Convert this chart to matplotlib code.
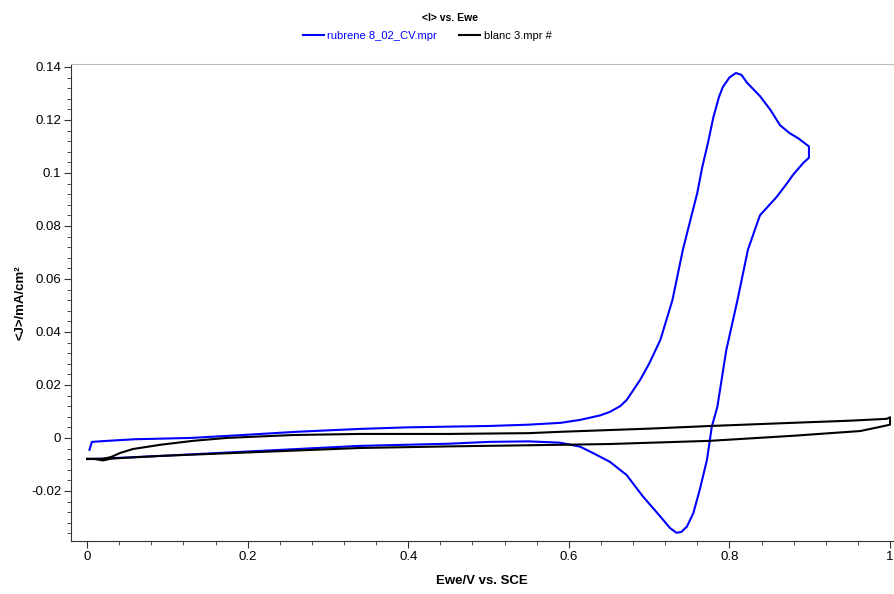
import numpy as np
import matplotlib
matplotlib.use("Agg")
import matplotlib.pyplot as plt
from matplotlib.ticker import MultipleLocator, FormatStrFormatter

plt.rcParams['font.family'] = ['Liberation Sans', 'DejaVu Sans']
plt.rcParams['axes.unicode_minus'] = False

# rubrene CV (forward then reverse scan)
rub_x = [0.003, 0.006, 0.02, 0.06, 0.13, 0.2, 0.26, 0.34, 0.4, 0.5, 0.55, 0.59,
         0.614, 0.639, 0.651, 0.664, 0.672, 0.689, 0.70, 0.714, 0.729, 0.742,
         0.752, 0.760, 0.766, 0.773, 0.780, 0.787, 0.792, 0.800, 0.808, 0.815,
         0.822, 0.838, 0.851, 0.863, 0.875, 0.886, 0.899,
         0.899, 0.892, 0.879, 0.872, 0.859, 0.838, 0.823, 0.81, 0.796, 0.785,
         0.778, 0.772, 0.763, 0.755, 0.747, 0.740, 0.734, 0.726, 0.714, 0.692,
         0.672, 0.651, 0.630, 0.614, 0.589, 0.55, 0.5, 0.45, 0.34, 0.215, 0.091,
         0.02, 0.0]
rub_y = [-0.0045, -0.0015, -0.0012, -0.0005, 0.0, 0.0012, 0.0023, 0.0034, 0.0040,
         0.0045, 0.005, 0.0057, 0.0068, 0.0085, 0.0098, 0.012, 0.0143, 0.022,
         0.028, 0.037, 0.052, 0.071, 0.083, 0.0925, 0.102, 0.111, 0.121, 0.1287,
         0.1325, 0.136, 0.1377, 0.137, 0.134, 0.129, 0.1238, 0.118, 0.115, 0.113,
         0.110,
         0.1057, 0.1038, 0.0992, 0.0962, 0.091, 0.084, 0.071, 0.052, 0.033, 0.0118,
         0.0042, -0.0083, -0.0196, -0.0284, -0.0335, -0.0355, -0.0358, -0.034,
         -0.0297, -0.022, -0.014, -0.009, -0.0057, -0.0033, -0.0018, -0.0013,
         -0.0015, -0.0022, -0.003, -0.0049, -0.0068, -0.0078, -0.0080]

# blank CV
blk_x = [0.0, 0.02, 0.03, 0.041, 0.057, 0.091, 0.132, 0.174, 0.257, 0.34, 0.45,
         0.55, 0.589, 0.7, 0.776, 0.879, 0.95, 0.996, 1.0,
         1.0, 0.988, 0.963, 0.879, 0.776, 0.651, 0.589, 0.45, 0.34, 0.215, 0.091,
         0.03, 0.02, 0.01, 0.0]
blk_y = [-0.0079, -0.0079, -0.0072, -0.0057, -0.0042, -0.0026, -0.0011, 0.0,
         0.0011, 0.0015, 0.0015, 0.0018, 0.0023, 0.0035, 0.0045, 0.0057, 0.0065,
         0.0072, 0.0078,
         0.0050, 0.0042, 0.0026, 0.0008, -0.0011, -0.0023, -0.0026, -0.0032,
         -0.0038, -0.0053, -0.0068, -0.0078, -0.0085, -0.0080, -0.0079]

fig = plt.figure(figsize=(8.94, 5.94), dpi=100)
ax = fig.add_axes([71/894, 53/594, 822/894, 477/594])

ax.plot(rub_x, rub_y, color='#0000ff', lw=1.5, label='rubrene 8_02_CV.mpr')
ax.plot(blk_x, blk_y, color='black', lw=1.5, label='blanc 3.mpr #')

ax.set_xlim(-0.02, 1.0037)
ax.set_ylim(-0.0389, 0.1411)
ax.xaxis.set_major_locator(MultipleLocator(0.2))
ax.xaxis.set_minor_locator(MultipleLocator(0.04))
ax.yaxis.set_major_locator(MultipleLocator(0.02))
ax.yaxis.set_minor_locator(MultipleLocator(0.004))
ax.xaxis.set_major_formatter(FormatStrFormatter('%g'))
ax.yaxis.set_major_formatter(FormatStrFormatter('%g'))
ax.tick_params(which='both', direction='out', top=False, right=False,
               labelsize=9.5, color='#333333', pad=2)
ax.tick_params(which='major', length=5)
ax.tick_params(which='minor', length=3)

ax.spines['right'].set_visible(False)
ax.spines['top'].set_color('#bbbbbb')
ax.spines['left'].set_color('#333333')
ax.spines['bottom'].set_color('#333333')

ax.set_xlabel('Ewe/V vs. SCE', fontsize=9.5, fontweight='bold', labelpad=9)
ax.set_ylabel('<J>/mA/cm²', fontsize=9.5, fontweight='bold', labelpad=3)

fig.text(0.503, 0.969, '<I> vs. Ewe', ha='center', va='center',
         fontsize=7.5, fontweight='bold')
leg = fig.legend(loc='center', bbox_to_anchor=(0.478, 0.94), ncol=2,
                 frameon=False, fontsize=8, handlelength=1.9, handletextpad=0.3,
                 columnspacing=2.0)
for txt, line in zip(leg.get_texts(), leg.get_lines()):
    txt.set_color(line.get_color())

fig.savefig('out.png', dpi=100)
